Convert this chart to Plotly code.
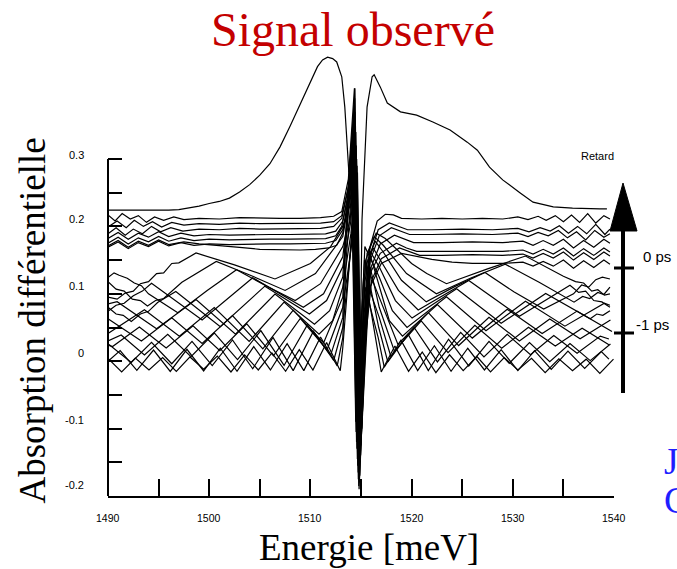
import plotly.graph_objects as go

# ---------------- data (energy in meV, differential absorption) ----------------
energy_top = [1490, 1491.5, 1493, 1494.5, 1496, 1497, 1498, 1499, 1500, 1501, 1502, 1503, 1504, 1505, 1506,
              1507, 1508, 1509, 1510, 1510.7, 1511.2, 1511.7, 1512.2, 1512.6, 1513.1, 1513.4, 1513.8, 1514.1,
              1514.4, 1514.75, 1515.1, 1515.6, 1516.1, 1516.3, 1516.9, 1517.6, 1518.9, 1520.5, 1522.1, 1523.8,
              1525.5, 1526.5, 1527.7, 1529.0, 1530.7, 1532.0, 1534.0, 1535.9, 1538.6, 1539.3]
signal_top = [0.224, 0.224, 0.223, 0.224, 0.224, 0.225, 0.227, 0.230, 0.234, 0.237, 0.242, 0.251, 0.262, 0.276,
              0.293, 0.318, 0.349, 0.382, 0.415, 0.437, 0.447, 0.451, 0.449, 0.444, 0.422, 0.377, 0.28, 0.30,
              0.405, -0.175, 0.21, 0.377, 0.422, 0.425, 0.407, 0.383, 0.370, 0.365, 0.355, 0.343, 0.325, 0.313,
              0.288, 0.269, 0.250, 0.236, 0.229, 0.227, 0.226, 0.226]

energy_c1 = [1490, 1490.7, 1491.4, 1492.2, 1493, 1493.8, 1494.6, 1495.5, 1496.5, 1497.5, 1499, 1501, 1503, 1505,
             1507, 1509, 1511, 1512.3, 1513.1, 1513.75, 1514.35, 1514.78, 1515.25, 1515.9, 1516.6, 1517.4, 1518.2,
             1519.0, 1521, 1523, 1525, 1527, 1529, 1530.5, 1531.5, 1532.5, 1533.3, 1534.2, 1535, 1535.8, 1536.6,
             1537.4, 1538.2, 1539, 1539.6]
signal_c1 = [0.217, 0.208, 0.219, 0.211, 0.216, 0.206, 0.214, 0.209, 0.214, 0.21, 0.212, 0.211, 0.213, 0.212,
             0.212, 0.212, 0.213, 0.215, 0.222, 0.27, 0.405, -0.185, 0.06, 0.17, 0.208, 0.218, 0.217, 0.212, 0.211,
             0.212, 0.211, 0.212, 0.211, 0.214, 0.21, 0.215, 0.209, 0.216, 0.207, 0.217, 0.206, 0.219, 0.205,
             0.216, 0.211]

energy_c2 = [1490, 1490.9, 1491.8, 1492.6, 1493.5, 1494.4, 1495.3, 1496.3, 1497.5, 1499, 1501, 1503, 1505, 1507,
             1509, 1511, 1512.3, 1513.1, 1513.78, 1514.38, 1514.81, 1515.28, 1515.95, 1516.7, 1517.8, 1518.8,
             1519.6, 1522, 1525, 1528, 1530.5, 1531.6, 1532.7, 1533.7, 1534.6, 1535.5, 1536.4, 1537.3, 1538.2,
             1539.1, 1539.6]
signal_c2 = [0.199, 0.208, 0.198, 0.209, 0.2, 0.207, 0.199, 0.206, 0.202, 0.204, 0.203, 0.205, 0.204, 0.204,
             0.204, 0.205, 0.207, 0.216, 0.26, 0.39, -0.19, 0.05, 0.16, 0.195, 0.205, 0.2, 0.195, 0.195, 0.196,
             0.195, 0.197, 0.192, 0.198, 0.193, 0.201, 0.19, 0.2, 0.189, 0.203, 0.188, 0.196]

energy_c3 = [1490, 1490.8, 1491.7, 1492.5, 1493.4, 1494.3, 1495.2, 1496.2, 1497.4, 1499, 1501, 1503, 1505, 1507,
             1509, 1511, 1512.3, 1513.1, 1513.72, 1514.32, 1514.75, 1515.22, 1515.92, 1516.8, 1518.0, 1519.0,
             1519.8, 1522, 1525, 1528, 1530.5, 1531.5, 1532.5, 1533.5, 1534.5, 1535.4, 1536.3, 1537.2, 1538.1,
             1539, 1539.6]
signal_c3 = [0.189, 0.198, 0.187, 0.196, 0.189, 0.2, 0.192, 0.198, 0.193, 0.196, 0.195, 0.197, 0.196, 0.196,
             0.196, 0.197, 0.2, 0.212, 0.255, 0.38, -0.175, 0.04, 0.15, 0.186, 0.198, 0.192, 0.188, 0.188, 0.189,
             0.188, 0.19, 0.185, 0.191, 0.186, 0.194, 0.183, 0.192, 0.18, 0.194, 0.184, 0.189]

energy_c4 = [1490, 1491, 1492, 1493, 1494, 1495, 1496, 1497.2, 1498.5, 1500, 1502, 1504, 1506, 1508, 1510,
             1511.5, 1512.5, 1513.2, 1513.81, 1514.41, 1514.84, 1515.31, 1516.01, 1516.9, 1518.3, 1519.3, 1520.2,
             1523, 1526, 1529, 1531, 1532, 1533, 1534, 1535, 1536, 1537, 1538, 1539, 1539.6]
signal_c4 = [0.182, 0.191, 0.181, 0.19, 0.184, 0.192, 0.185, 0.19, 0.186, 0.188, 0.187, 0.188, 0.188, 0.188,
             0.188, 0.189, 0.193, 0.208, 0.25, 0.37, -0.18, 0.03, 0.14, 0.174, 0.187, 0.181, 0.176, 0.176, 0.177,
             0.176, 0.178, 0.172, 0.179, 0.172, 0.181, 0.168, 0.179, 0.169, 0.181, 0.175]

energy_c5 = [1490, 1491, 1492, 1493, 1494, 1495, 1496, 1497.2, 1498.5, 1500, 1502, 1504, 1506, 1508, 1510,
             1511.5, 1512.5, 1513.1, 1513.69, 1514.29, 1514.72, 1515.19, 1515.89, 1516.9, 1518.5, 1519.5, 1520.5,
             1523, 1526, 1529, 1531, 1532, 1533, 1534, 1535, 1536, 1537, 1538, 1539, 1539.6]
signal_c5 = [0.175, 0.184, 0.174, 0.183, 0.177, 0.185, 0.178, 0.183, 0.179, 0.181, 0.18, 0.181, 0.181, 0.181,
             0.181, 0.182, 0.186, 0.2, 0.245, 0.36, -0.165, 0.02, 0.13, 0.16, 0.175, 0.168, 0.163, 0.163, 0.164,
             0.163, 0.165, 0.159, 0.166, 0.159, 0.168, 0.156, 0.167, 0.157, 0.168, 0.162]

energy_c6 = [1490, 1491, 1492, 1493, 1494, 1495, 1496, 1497.2, 1498.5, 1500, 1502, 1504, 1506, 1508, 1510,
             1511.5, 1512.5, 1513.2, 1513.85, 1514.45, 1514.88, 1515.35, 1516.05, 1517.0, 1518.8, 1519.8, 1520.8,
             1523, 1526, 1529, 1531, 1532, 1533, 1534, 1535, 1536, 1537, 1538, 1539, 1539.6]
signal_c6 = [0.169, 0.177, 0.167, 0.176, 0.17, 0.178, 0.171, 0.176, 0.172, 0.174, 0.173, 0.174, 0.174, 0.174,
             0.174, 0.175, 0.179, 0.195, 0.24, 0.35, -0.17, 0.02, 0.12, 0.152, 0.168, 0.162, 0.157, 0.157, 0.158,
             0.157, 0.159, 0.153, 0.16, 0.153, 0.162, 0.15, 0.161, 0.151, 0.162, 0.156]

energy_c7 = [1490, 1491, 1492, 1493, 1494, 1495, 1496, 1497.5, 1499, 1501, 1503, 1505, 1507, 1509, 1510.5,
             1511.8, 1512.6, 1513.2, 1513.65, 1514.25, 1514.68, 1515.15, 1515.9, 1517.0, 1519.0, 1520.5, 1522,
             1524, 1526, 1529, 1531, 1532, 1533, 1534, 1535, 1536, 1537, 1538, 1539, 1539.6]
signal_c7 = [0.171, 0.179, 0.169, 0.178, 0.172, 0.18, 0.173, 0.177, 0.174, 0.172, 0.169, 0.166, 0.165, 0.165,
             0.166, 0.168, 0.172, 0.19, 0.235, 0.345, -0.155, 0.01, 0.11, 0.145, 0.16, 0.156, 0.151, 0.147, 0.145,
             0.145, 0.147, 0.141, 0.148, 0.141, 0.15, 0.138, 0.149, 0.139, 0.15, 0.144]

energy_c8 = [1490, 1490.9, 1491.7, 1492.5, 1493.2, 1494, 1494.8, 1495.5, 1496.3, 1497, 1498.7, 1502.5, 1506.5,
             1510, 1512, 1513.2, 1513.89, 1514.49, 1514.92, 1515.6, 1516.5, 1517.4, 1520, 1521.5, 1523.45, 1527.5,
             1531.25, 1535, 1536.2, 1537, 1537.8, 1538.4, 1539.05, 1539.6]
signal_c8 = [0.095, 0.092, 0.101, 0.104, 0.115, 0.118, 0.13, 0.131, 0.145, 0.146, 0.1605, 0.143, 0.122, 0.145,
             0.17, 0.2, 0.23, 0.34, -0.15, 0.16, 0.19, 0.182, 0.145, 0.13, 0.115, 0.137, 0.156, 0.126, 0.118,
             0.116, 0.104, 0.106, 0.098, 0.1]

energy_c9 = [1490, 1490.8, 1491.6, 1492.4, 1493.2, 1493.9, 1494.7, 1495.5, 1497.3, 1500.7, 1504, 1507.5, 1510.5,
             1513.2, 1513.61, 1514.21, 1514.64, 1515.46, 1516.3, 1517.2, 1519.5, 1522.45, 1525.8, 1529.25, 1532.6,
             1536.05, 1536.9, 1537.6, 1538.4, 1539.0, 1539.6]
signal_c9 = [0.118, 0.107, 0.104, 0.092, 0.09, 0.082, 0.09, 0.093, 0.117, 0.148, 0.128, 0.105, 0.13, 0.185,
             0.22, 0.33, -0.145, 0.15, 0.185, 0.172, 0.13, 0.10, 0.123, 0.144, 0.117, 0.0876, 0.096, 0.093, 0.102,
             0.099, 0.11]

energy_c10 = [1490, 1490.6, 1491.1, 1491.9, 1492.6, 1493.3, 1494, 1496.9, 1499.8, 1502.7, 1505.6, 1508.5, 1511,
              1513.2, 1513.93, 1514.53, 1514.96, 1515.7, 1516.4, 1517.2, 1519.0, 1521.45, 1524.3, 1527.25, 1530.1,
              1533.05, 1536, 1536.8, 1537.5, 1538.2, 1538.85, 1539.6]
signal_c10 = [0.124, 0.131, 0.1276, 0.123, 0.116, 0.112, 0.1, 0.0719, 0.105, 0.1358, 0.112, 0.09, 0.115, 0.17,
              0.21, 0.32, -0.14, 0.15, 0.178, 0.162, 0.12, 0.088, 0.111, 0.1317, 0.103, 0.0774, 0.1, 0.113, 0.11,
              0.121, 0.1247, 0.122]

energy_c11 = [1490, 1490.8, 1491.6, 1492.5, 1493.4, 1494.3, 1499.3, 1504.3, 1509.3, 1511.3, 1513.2, 1513.57,
              1514.17, 1514.6, 1515.42, 1516.2, 1517.0, 1518.7, 1520.65, 1525.65, 1530.65, 1535.65, 1536.5, 1537.2,
              1538, 1538.8, 1539.6]
signal_c11 = [0.074, 0.083, 0.086, 0.097, 0.104, 0.1156, 0.0612, 0.1238, 0.08, 0.10, 0.155, 0.2, 0.31, -0.13,
              0.14, 0.168, 0.148, 0.105, 0.076, 0.1198, 0.0666, 0.1128, 0.102, 0.104, 0.09, 0.088, 0.08]

energy_c12 = [1490, 1490.8, 1491.5, 1492.3, 1493.2, 1494, 1494.9, 1496.7, 1501.1, 1505.5, 1509.9, 1511.6, 1513.2,
              1513.97, 1514.57, 1515.0, 1515.82, 1516.8, 1518.4, 1520.05, 1524.45, 1528.85, 1533.25, 1537.65,
              1538.3, 1538.9, 1539.6]
signal_c12 = [0.08, 0.07, 0.068, 0.059, 0.07, 0.074, 0.087, 0.1033, 0.0512, 0.1113, 0.07, 0.09, 0.14, 0.205,
              0.30, -0.125, 0.165, 0.14, 0.09, 0.064, 0.1074, 0.0563, 0.1006, 0.063, 0.07, 0.068, 0.075]

energy_c13 = [1490, 1490.9, 1494.8, 1498.7, 1502.6, 1506.5, 1510.4, 1511.9, 1513.2, 1513.53, 1514.13, 1514.56,
              1515.38, 1516.8, 1518.1, 1519.55, 1523.45, 1527.35, 1531.25, 1535.15, 1539.05, 1539.6]
signal_c13 = [0.085, 0.0883, 0.0481, 0.0914, 0.0402, 0.0996, 0.055, 0.075, 0.125, 0.2, 0.295, -0.12, 0.17, 0.125,
              0.075, 0.05, 0.0957, 0.0452, 0.0888, 0.052, 0.0861, 0.083]

energy_c14 = [1490, 1493.6, 1497.05, 1500.5, 1503.95, 1507.4, 1510.85, 1512.2, 1513.2, 1514.01, 1514.61,
              1515.04, 1515.86, 1516.8, 1517.8, 1519.1, 1522.55, 1526.0, 1529.45, 1532.9, 1536.35, 1539.8]
signal_c14 = [0.041, 0.0764, 0.0372, 0.0795, 0.0293, 0.0876, 0.04, 0.06, 0.11, 0.19, 0.29, -0.11, 0.16, 0.11,
              0.06, 0.037, 0.0839, 0.0343, 0.077, 0.041, 0.0743, 0.0442]

energy_c15 = [1490, 1493.3, 1496.3, 1499.3, 1502.3, 1505.3, 1508.3, 1511.3, 1513.2, 1513.49, 1514.09, 1514.52,
              1515.34, 1516.8, 1518.65, 1521.65, 1524.65, 1527.65, 1530.65, 1533.65, 1536.65, 1539.65]
signal_c15 = [0.063, 0.0301, 0.0645, 0.0263, 0.0677, 0.0183, 0.0758, 0.027, 0.095, 0.18, 0.285, -0.105, 0.15,
              0.095, 0.025, 0.0721, 0.0232, 0.0652, 0.03, 0.0625, 0.0332, 0.061]

energy_c16 = [1490, 1490.45, 1493.1, 1495.75, 1498.4, 1501.05, 1503.7, 1506.35, 1509.0, 1511.65, 1513.2,
              1514.05, 1514.65, 1515.08, 1515.9, 1516.8, 1518.3, 1520.95, 1523.6, 1526.25, 1528.9, 1531.55,
              1534.2, 1536.85, 1539.5]
signal_c16 = [0.024, 0.0218, 0.0507, 0.0195, 0.0525, 0.0157, 0.0556, 0.0079, 0.0634, 0.017, 0.08, 0.17, 0.28,
              -0.10, 0.14, 0.08, 0.015, 0.0598, 0.0126, 0.0532, 0.0193, 0.0505, 0.0225, 0.049, 0.0244]

energy_c17 = [1490, 1491.3, 1493.6, 1495.9, 1498.2, 1500.5, 1502.8, 1505.1, 1507.4, 1509.7, 1512.0, 1513.2,
              1513.45, 1514.05, 1514.48, 1515.29, 1516.8, 1517.95, 1520.25, 1522.55, 1524.85, 1527.15, 1529.45,
              1531.75, 1534.05, 1536.35, 1538.65, 1539.5]
signal_c17 = [0.03, 0.0388, 0.0091, 0.040, 0.0066, 0.0419, 0.0023, 0.0454, -0.0063, 0.0539, 0.009, 0.065, 0.165,
              0.275, -0.09, 0.13, 0.065, 0.007, 0.05, -0.0011, 0.0428, 0.0062, 0.0398, 0.0098, 0.0382, 0.0119,
              0.0372, 0.033]

energy_c18 = [1490, 1492.3, 1494.3, 1496.3, 1498.3, 1500.3, 1502.3, 1504.3, 1506.3, 1508.3, 1510.3, 1512.3,
              1513.2, 1513.95, 1514.55, 1514.98, 1515.8, 1516.75, 1517.65, 1519.65, 1521.65, 1523.65, 1525.65,
              1527.65, 1529.65, 1531.65, 1533.65, 1535.65, 1537.65, 1539.65]
signal_c18 = [0.026, -0.0019, 0.0281, -0.0038, 0.0294, -0.0065, 0.0316, -0.0112, 0.0354, -0.014, 0.0444, 0.001,
              0.05, 0.16, 0.27, -0.085, 0.12, 0.05, -0.001, 0.0402, -0.014, 0.0326, -0.0071, 0.0293, -0.0031,
              0.0275, -0.0007, 0.0263, 0.0009, 0.0255]

energy_c19 = [1490, 1491.2, 1492.85, 1494.5, 1496.15, 1497.8, 1499.45, 1501.1, 1502.75, 1504.4, 1506.05, 1507.7,
              1509.35, 1511.0, 1512.65, 1513.2, 1513.55, 1514.15, 1514.58, 1515.4, 1516.7, 1517.3, 1518.95, 1520.6,
              1522.25, 1523.9, 1525.55, 1527.2, 1528.85, 1530.5, 1532.15, 1533.8, 1535.45, 1537.1, 1538.75, 1539.5]
signal_c19 = [0.0, 0.0158, -0.0136, 0.0166, -0.0152, 0.0177, -0.0145, 0.0193, -0.015, 0.0217, -0.013, 0.0261,
              -0.014, 0.0359, -0.007, 0.035, 0.155, 0.265, -0.08, 0.11, 0.035, -0.009, 0.0313, -0.014, 0.0229,
              -0.015, 0.0192, -0.013, 0.0171, -0.014, 0.0158, -0.0121, 0.0149, -0.0108, 0.0142, 0.003]

energy_c20 = [1490, 1491.35, 1492.7, 1494.05, 1495.4, 1496.75, 1498.1, 1499.45, 1500.8, 1502.15, 1503.5, 1504.85,
              1506.2, 1507.55, 1508.9, 1510.25, 1511.6, 1512.95, 1513.2, 1513.85, 1514.45, 1514.88, 1515.7, 1516.6,
              1517.0, 1518.35, 1519.7, 1521.05, 1522.4, 1523.75, 1525.1, 1526.45, 1527.8, 1529.15, 1530.5, 1531.85,
              1533.2, 1534.55, 1535.9, 1537.25, 1538.6, 1539.95]
signal_c20 = [0.004, -0.016, 0.0046, -0.013, 0.0054, -0.015, 0.0063, -0.012, 0.0076, -0.016, 0.0094, -0.013,
              0.0123, -0.015, 0.0172, -0.013, 0.0276, -0.014, 0.02, 0.15, 0.26, -0.075, 0.10, 0.02, -0.016, 0.0225,
              -0.015, 0.0136, -0.017, 0.0095, -0.014, 0.007, -0.016, 0.0055, -0.013, 0.0044, -0.017, 0.0036,
              -0.014, 0.003, -0.018, 0.003]

x_tick_values = [1490, 1495, 1500, 1505, 1510, 1515, 1520, 1525, 1530, 1535, 1540]
x_label_values = [1490, 1500, 1510, 1520, 1530, 1540]
y_tick_values = [-0.2, -0.15, -0.1, -0.05, 0.0, 0.05, 0.1, 0.15, 0.2, 0.25, 0.3]
y_label_values = [0.3, 0.2, 0.1, 0.0, -0.1, -0.2]
y_label_texts = ["0.3", "0.2", "0.1", "0", "-0.1", "-0.2"]

curves = [
    (energy_top, signal_top), (energy_c1, signal_c1), (energy_c2, signal_c2), (energy_c3, signal_c3),
    (energy_c4, signal_c4), (energy_c5, signal_c5), (energy_c6, signal_c6), (energy_c7, signal_c7),
    (energy_c8, signal_c8), (energy_c9, signal_c9), (energy_c10, signal_c10), (energy_c11, signal_c11),
    (energy_c12, signal_c12), (energy_c13, signal_c13), (energy_c14, signal_c14), (energy_c15, signal_c15),
    (energy_c16, signal_c16), (energy_c17, signal_c17), (energy_c18, signal_c18), (energy_c19, signal_c19),
    (energy_c20, signal_c20),
]

# ---------------- figure ----------------
W, H = 677, 569
ML, MR, MT, MB = 108, 63, 0, 73
PW, PH = W - ML - MR, H - MT - MB


def px(xp):
    return (xp - ML) / PW


def py(yp):
    return (H - MB - yp) / PH


fig = go.Figure()
for e, v in curves:
    fig.add_trace(go.Scatter(x=e, y=v, mode="lines", line=dict(color="black", width=1.2),
                             showlegend=False, hoverinfo="skip"))

serif = "Liberation Serif, Times New Roman, serif"
sans = "Liberation Sans, Arial, sans-serif"

ann = []
ann.append(dict(text="Signal observé", x=px(353), y=py(29), xref="paper", yref="paper",
                xanchor="center", yanchor="middle", showarrow=False,
                font=dict(family=serif, size=48, color="#c40000")))
ann.append(dict(text="Absorption différentielle", x=px(31.5), y=py(321), xref="paper", yref="paper",
                textangle=-90, xanchor="center", yanchor="middle", showarrow=False,
                font=dict(family=serif, size=37, color="black")))
ann.append(dict(text="Energie [meV]", x=px(369), y=py(547), xref="paper", yref="paper",
                xanchor="center", yanchor="middle", showarrow=False,
                font=dict(family=serif, size=37, color="black")))
for v in x_label_values:
    ann.append(dict(text=str(v), x=v, y=py(518), xref="x", yref="paper", xanchor="center",
                    yanchor="middle", showarrow=False, font=dict(family=sans, size=10.5, color="black")))
y_shifts = [4, 7, 8, 8, 8.5, 11.5]
for v, t, s in zip(y_label_values, y_label_texts, y_shifts):
    ann.append(dict(text=t, x=px(86), y=v, xref="paper", yref="y", xanchor="right", yanchor="middle",
                    yshift=s, showarrow=False, font=dict(family=sans, size=11, color="black")))
ann.append(dict(text="Retard", x=px(597), y=py(156), xref="paper", yref="paper", xanchor="center",
                yanchor="middle", showarrow=False, font=dict(family=sans, size=11, color="black")))
ann.append(dict(text="0 ps", x=px(641), y=py(257), xref="paper", yref="paper", xanchor="left",
                yanchor="middle", showarrow=False, font=dict(family=sans, size=15, color="black")))
ann.append(dict(text="-1 ps", x=px(634), y=py(324), xref="paper", yref="paper", xanchor="left",
                yanchor="middle", showarrow=False, font=dict(family=sans, size=15, color="black")))
ann.append(dict(text="J", x=px(662), y=py(461), xref="paper", yref="paper", xanchor="left",
                yanchor="middle", showarrow=False, font=dict(family=serif, size=37, color="#1e1eff")))
ann.append(dict(text="C", x=px(662), y=py(501), xref="paper", yref="paper", xanchor="left",
                yanchor="middle", showarrow=False, font=dict(family=serif, size=37, color="#1e1eff")))

shapes = []
# vertical axis line (only between -0.2 and 0.3)
shapes.append(dict(type="line", xref="paper", yref="y", x0=0, x1=0, y0=-0.2, y1=0.3,
                   line=dict(color="black", width=2)))
# delay arrow
shapes.append(dict(type="line", xref="paper", yref="paper", x0=px(623), x1=px(623), y0=py(393), y1=py(226),
                   line=dict(color="black", width=4)))
shapes.append(dict(type="path", xref="paper", yref="paper",
                   path="M {:.4f},{:.4f} L {:.4f},{:.4f} L {:.4f},{:.4f} Z".format(
                       px(623), py(183), px(610), py(231), px(637), py(231)),
                   fillcolor="black", line=dict(color="black", width=1)))
for yy in (268, 333):
    shapes.append(dict(type="line", xref="paper", yref="paper", x0=px(614), x1=px(634), y0=py(yy), y1=py(yy),
                       line=dict(color="black", width=3)))

fig.update_layout(
    width=W, height=H,
    margin=dict(l=ML, r=MR, t=MT, b=MB, pad=0),
    paper_bgcolor="white", plot_bgcolor="white",
    showlegend=False,
    annotations=ann, shapes=shapes,
    xaxis=dict(range=[1490, 1540], showgrid=False, zeroline=False, showline=True, linecolor="black",
               linewidth=2, ticks="inside", ticklen=17, tickwidth=2, tickcolor="black",
               tickmode="array", tickvals=x_tick_values, showticklabels=False),
    yaxis=dict(range=[-0.2, 0.5359], showgrid=False, zeroline=False, showline=False,
               ticks="inside", ticklen=14, tickwidth=2, tickcolor="black",
               tickmode="array", tickvals=y_tick_values, showticklabels=False),
)

fig.write_html("out.html", config={"displayModeBar": False})
